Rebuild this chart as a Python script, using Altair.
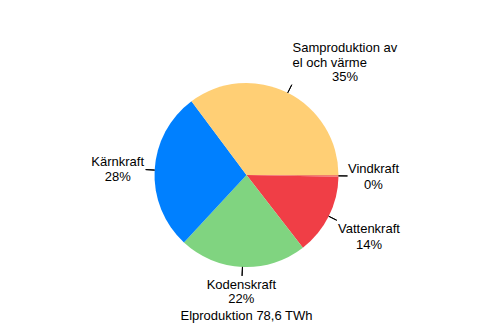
import math
import altair as alt
import pandas as pd

# ---- data ----
categories = ["Vindkraft", "Vattenkraft", "Kodenskraft", "Kärnkraft", "Samproduktion av\nel och värme"]
shares = [0.3, 14.2, 22.4, 27.9, 35.2]          # percent of electricity production
slice_order = [0, 1, 2, 3, 4]                     # clockwise from 3 o'clock
slice_colors = ["#F0806E", "#F03E46", "#80D480", "#0080FF", "#FFCF75"]
subtitle = "Elproduktion 78,6 TWh"

df = pd.DataFrame({"category": categories, "share": shares, "idx": slice_order})

FONT = "Liberation Sans"
theta_scale = alt.Scale(domain=[0, 100], range=[math.pi / 2, math.pi / 2 + 2 * math.pi])
color_scale = alt.Scale(domain=categories, range=slice_colors)

base = alt.Chart(df).transform_window(
    cum="sum(share)", sort=[alt.SortField("idx")], frame=[None, 0]
).transform_calculate(
    start="datum.cum - datum.share",
    mid="datum.cum - datum.share / 2",
    pct="round(datum.share) + '%'",
    label="datum.category + '\\n' + round(datum.share) + '%'",
)

pie = base.mark_arc(radius=92, stroke=None).encode(
    theta=alt.Theta("start:Q", scale=theta_scale, stack=False),
    theta2="cum:Q",
    color=alt.Color("category:N", scale=color_scale, legend=None),
)

leaders = base.mark_arc(radius=92, radius2=101, stroke="black", strokeWidth=1, fillOpacity=0).encode(
    theta=alt.Theta("mid:Q", scale=theta_scale, stack=False),
    theta2="mid:Q",
)

def label_layer(cat, field, radius, dx, dy, lh, align="center"):
    return base.transform_filter(alt.datum.category == cat).mark_text(
        radius=radius, dx=dx, dy=dy,
        align=align, baseline="middle", lineBreak="\n",
        font=FONT, fontSize=13, lineHeight=lh, color="black",
    ).encode(
        theta=alt.Theta("mid:Q", scale=theta_scale, stack=False),
        text=f"{field}:N",
    )

label_layers = [
    label_layer(categories[0], "label", 127, 0, -7, 16),
    label_layer(categories[1], "label", 137, 0, -7, 16),
    label_layer(categories[2], "label", 117, 0, -7, 14),
    label_layer(categories[3], "label", 129, 0, -6, 15),
    label_layer(categories[4], "category", 126, -10.5, -14, 15, align="left"),
    label_layer(categories[4], "pct", 126, 42, 15, 15),
]

chart = alt.layer(pie, leaders, *label_layers).properties(
    width=493,
    height=296,
    padding={"top": 27, "bottom": 0, "left": 0, "right": 0},
    autosize=alt.AutoSizeParams(type="none"),
    title=alt.TitleParams(
        subtitle, orient="bottom", anchor="middle", offset=-13,
        font=FONT, fontSize=13, fontWeight="normal", color="black",
    ),
).configure_view(stroke=None).configure(background="white")

chart.save("out.html", embed_options={"renderer": "svg", "actions": False})
